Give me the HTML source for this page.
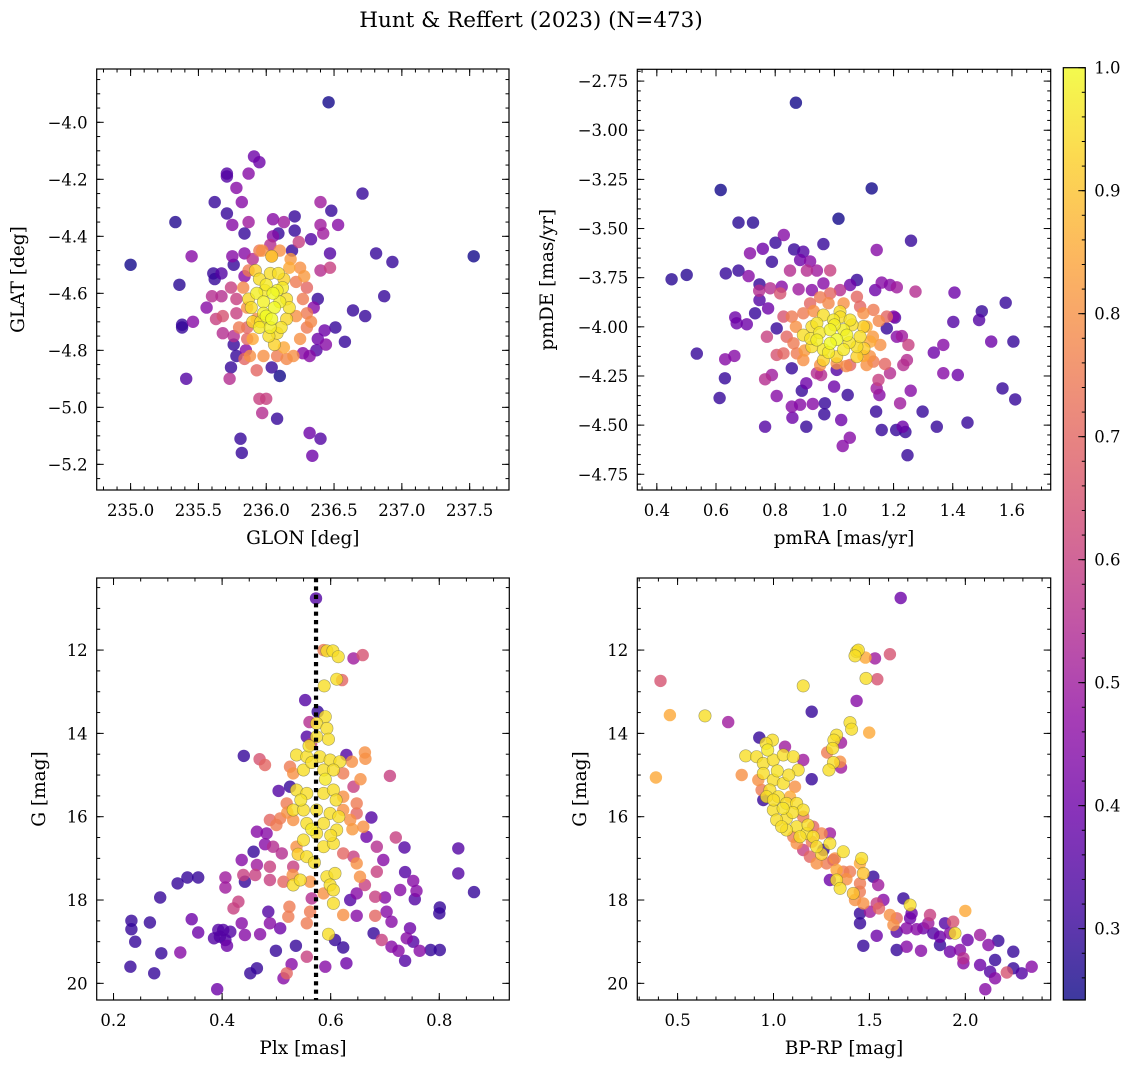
<!DOCTYPE html>
<html><head><meta charset="utf-8">
<style>
html,body{margin:0;padding:0;background:#fff;}
svg{display:block;font-family:"DejaVu Serif","Liberation Serif",serif;}
</style></head>
<body>
<svg id="fig" width="1136" height="1067" viewBox="0 0 1136 1067" xmlns="http://www.w3.org/2000/svg">
<text x="531" y="27" text-anchor="middle" font-size="21.5">Hunt &amp; Reffert (2023) (N=473)</text>
</svg>
<script>
// ---- data: [x, y, membership probability] ----
const p1Stars = [[236.46,-3.93,.25],[237.53,-4.47,.25],[235.00,-4.50,.25],[235.33,-4.35,.27],[235.36,-4.57,.28],[235.45,-4.47,.45],[235.61,-4.53,.3],[235.62,-4.55,.3],[235.67,-4.53,.35],[235.38,-4.71,.3],[235.38,-4.72,.3],[235.46,-4.70,.45],[235.41,-4.90,.35],[235.71,-4.18,.35],[235.71,-4.19,.35],[235.91,-4.12,.4],[235.95,-4.14,.4],[235.87,-4.18,.45],[235.78,-4.23,.45],[235.82,-4.28,.45],[235.62,-4.28,.3],[235.71,-4.32,.3],[235.75,-4.36,.45],[235.87,-4.35,.5],[235.84,-4.39,.3],[236.05,-4.34,.45],[236.13,-4.35,.5],[236.21,-4.33,.3],[236.21,-4.38,.3],[236.09,-4.39,.3],[236.48,-4.31,.3],[236.53,-4.36,.45],[236.40,-4.28,.5],[236.40,-4.36,.5],[236.42,-4.39,.5],[236.33,-4.41,.35],[236.24,-4.42,.6],[236.05,-4.40,.45],[236.71,-4.25,.3],[236.81,-4.46,.3],[236.93,-4.49,.3],[236.87,-4.61,.3],[236.64,-4.66,.3],[236.73,-4.68,.3],[236.51,-4.72,.3],[236.58,-4.77,.3],[236.43,-4.73,.4],[236.38,-4.76,.4],[236.44,-4.78,.45],[236.37,-4.80,.35],[236.32,-4.82,.45],[236.27,-4.81,.45],[236.10,-4.89,.25],[236.04,-4.86,.3],[235.74,-4.86,.3],[235.73,-4.90,.55],[235.93,-4.87,.7],[235.95,-4.97,.6],[236.00,-4.97,.6],[235.97,-5.02,.55],[236.08,-5.04,.3],[235.81,-5.11,.3],[235.82,-5.16,.3],[236.32,-5.09,.4],[236.40,-5.11,.35],[236.34,-5.17,.4],[235.75,-4.47,.45],[235.84,-4.46,.45],[235.76,-4.50,.3],[235.84,-4.54,.45],[236.19,-4.45,.3],[236.47,-4.46,.35],[236.47,-4.51,.6],[236.40,-4.52,.55],[236.38,-4.62,.3],[236.35,-4.65,.45],[235.56,-4.65,.45],[235.60,-4.61,.55],[235.67,-4.61,.55],[235.74,-4.58,.6],[235.78,-4.62,.6],[235.63,-4.69,.6],[235.68,-4.68,.65],[235.68,-4.74,.55],[235.76,-4.75,.55],[235.76,-4.78,.3],[235.78,-4.82,.3],[235.85,-4.80,.45],[235.84,-4.83,.7],[235.86,-4.76,.7],[235.98,-4.82,.8],[235.90,-4.76,.85],[235.95,-4.45,.75],[236.03,-4.43,.55],[236.04,-4.47,.85],[235.90,-4.48,.55],[235.87,-4.52,.75],[236.17,-4.51,.85],[236.25,-4.51,.8],[236.22,-4.56,.75],[236.30,-4.58,.7],[236.27,-4.62,.75],[236.30,-4.67,.75],[236.30,-4.72,.75],[236.25,-4.76,.8],[236.20,-4.82,.8],[236.13,-4.79,.85],[236.08,-4.82,.75],[235.93,-4.69,.8],[235.86,-4.72,.7],[235.78,-4.67,.6],[235.86,-4.65,.8],[236.18,-4.48,.82],[236.22,-4.68,.8],[235.83,-4.58,.78],[235.88,-4.82,.8],[236.15,-4.83,.78],[235.97,-4.45,.8],[236.28,-4.54,.82],[236.33,-4.70,.78],[235.80,-4.72,.75],[236.10,-4.45,.8],[235.95,-4.55,.95],[236.03,-4.53,.95],[236.09,-4.53,.95],[235.99,-4.59,.97],[236.08,-4.59,.98],[236.15,-4.62,.95],[236.17,-4.65,.96],[236.06,-4.65,1],[235.98,-4.63,.99],[235.89,-4.65,.95],[235.95,-4.72,.97],[236.03,-4.72,.98],[236.11,-4.72,.96],[236.08,-4.74,.95],[236.00,-4.68,1],[235.93,-4.60,.98],[236.13,-4.55,.93],[236.05,-4.60,1],[235.98,-4.67,.99],[236.04,-4.69,1],[235.87,-4.62,.94],[236.15,-4.69,.94],[236.04,-4.47,.9],[236.00,-4.57,.97],[236.10,-4.63,.98],[235.96,-4.70,.96],[236.06,-4.78,.93],[235.92,-4.52,.92],[236.12,-4.58,.97],[236.02,-4.75,.95],[235.90,-4.70,.93]];

const p2Stars = [[0.870,-2.86,.25],[0.616,-3.304,.25],[1.126,-3.296,.25],[1.014,-3.45,.25],[0.676,-3.47,.28],[0.725,-3.47,.28],[0.829,-3.533,.45],[0.801,-3.572,.3],[0.963,-3.579,.3],[1.259,-3.562,.3],[1.143,-3.609,.45],[0.758,-3.603,.4],[0.715,-3.626,.45],[0.789,-3.669,.3],[0.864,-3.606,.3],[0.895,-3.618,.35],[0.884,-3.660,.4],[0.918,-3.667,.45],[0.450,-3.758,.28],[0.501,-3.736,.28],[0.633,-3.728,.3],[0.676,-3.714,.3],[0.710,-3.742,.45],[0.747,-3.784,.3],[0.746,-3.816,.55],[0.783,-3.804,.55],[0.822,-3.796,.45],[0.850,-3.714,.55],[0.907,-3.714,.55],[0.941,-3.714,.5],[0.986,-3.713,.6],[0.879,-3.809,.5],[0.924,-3.813,.45],[0.963,-3.779,.45],[1.076,-3.762,.3],[1.053,-3.787,.4],[1.019,-3.813,.55],[1.138,-3.813,.4],[1.160,-3.775,.45],[1.188,-3.787,.45],[1.211,-3.799,.5],[1.274,-3.821,.55],[1.406,-3.826,.4],[1.579,-3.877,.3],[1.498,-3.921,.3],[1.489,-3.965,.35],[1.402,-3.975,.35],[1.530,-4.075,.4],[1.605,-4.075,.3],[0.747,-3.864,.35],[0.732,-3.931,.3],[0.776,-3.906,.4],[0.665,-3.952,.4],[0.670,-3.982,.4],[0.704,-3.987,.4],[0.805,-4.008,.3],[0.772,-4.050,.6],[0.535,-4.136,.3],[0.631,-4.165,.45],[0.662,-4.148,.45],[0.630,-4.262,.3],[0.612,-4.362,.3],[0.766,-4.267,.55],[0.789,-4.245,.5],[0.805,-4.352,.45],[0.856,-4.211,.3],[0.856,-4.406,.45],[0.858,-4.462,.4],[0.884,-4.396,.45],[0.890,-4.325,.3],[0.905,-4.287,.4],[0.905,-4.508,.3],[0.766,-4.508,.35],[0.927,-4.392,.45],[0.968,-4.389,.3],[0.966,-4.445,.3],[0.999,-4.304,.4],[1.045,-4.347,.3],[1.023,-4.474,.4],[1.052,-4.564,.45],[1.028,-4.606,.45],[1.141,-4.431,.3],[1.160,-4.525,.3],[1.209,-4.525,.3],[1.240,-4.535,.3],[1.231,-4.508,.4],[1.247,-4.653,.3],[1.222,-4.389,.5],[1.258,-4.325,.45],[1.298,-4.431,.3],[1.346,-4.508,.3],[1.450,-4.487,.3],[1.568,-4.313,.3],[1.611,-4.369,.3],[1.368,-4.236,.45],[1.417,-4.245,.4],[1.336,-4.131,.4],[1.368,-4.092,.45],[1.245,-4.169,.55],[1.233,-4.194,.55],[1.188,-4.236,.55],[1.149,-4.270,.6],[1.143,-4.313,.5],[1.152,-4.347,.45],[1.008,-4.219,.35],[1.211,-4.050,.45],[1.228,-4.047,.5],[1.200,-3.948,.45],[1.177,-4.008,.3],[1.205,-3.953,.35],[0.941,-4.236,.55],[0.955,-4.245,.55],[0.856,-3.948,.75],[0.839,-4.050,.7],[0.862,-4.084,.75],[0.828,-4.135,.7],[0.805,-4.143,.65],[0.873,-4.135,.75],[0.895,-4.169,.8],[0.952,-4.194,.8],[1.008,-4.186,.8],[1.053,-4.194,.7],[1.109,-4.194,.8],[1.132,-4.177,.75],[1.171,-4.189,.7],[1.155,-4.092,.8],[1.121,-4.075,.85],[1.109,-3.999,.85],[1.098,-3.931,.8],[1.132,-3.914,.75],[1.087,-3.897,.7],[1.076,-3.847,.7],[1.031,-3.881,.8],[0.986,-3.830,.7],[0.952,-3.850,.75],[0.918,-3.881,.7],[0.895,-3.931,.75],[0.828,-3.948,.65],[1.250,-4.092,.6],[1.177,-3.948,.7],[0.817,-3.830,.65],[1.098,-4.148,.85],[0.870,-4.000,.8],[0.900,-4.120,.82],[1.130,-4.050,.82],[1.120,-4.150,.8],[1.040,-4.200,.78],[0.980,-3.880,.78],[0.930,-3.920,.8],[1.150,-3.970,.78],[0.895,-4.042,.95],[0.924,-3.999,.95],[0.963,-3.940,.95],[1.019,-3.923,.95],[0.941,-4.067,.98],[0.986,-4.015,.99],[1.031,-4.015,.98],[1.008,-4.065,1],[0.963,-4.116,.97],[1.031,-4.116,.97],[1.076,-4.101,.95],[1.087,-4.050,.95],[1.053,-3.965,.96],[0.997,-3.965,.97],[0.941,-3.982,.96],[0.986,-4.084,1],[1.042,-4.042,.99],[0.963,-4.169,.93],[1.008,-4.152,.94],[1.076,-4.152,.93],[0.924,-4.101,.95],[1.098,-3.999,.93],[0.950,-4.030,.97],[1.000,-3.990,.98],[1.050,-4.080,.96],[0.980,-4.130,.97],[1.060,-3.990,.95],[0.920,-4.060,.96],[1.020,-3.950,.95],[1.100,-4.110,.92]];

const p3Stars = [[0.573,10.76,.35],[0.593,12.02,.95],[0.604,12.02,.95],[0.614,12.16,.95],[0.587,12.0,.75],[0.642,12.2,.5],[0.659,12.12,.65],[0.588,12.86,.95],[0.611,12.70,.95],[0.621,12.72,.7],[0.553,13.2,.35],[0.576,13.48,.3],[0.590,13.6,.95],[0.574,13.76,.95],[0.593,13.88,.95],[0.561,13.73,.55],[0.556,14.08,.35],[0.596,14.14,.95],[0.574,14.08,.95],[0.564,14.26,.6],[0.440,14.54,.3],[0.469,14.62,.65],[0.479,14.76,.7],[0.537,14.52,.95],[0.556,14.56,.95],[0.580,14.56,.95],[0.599,14.64,.95],[0.617,14.68,.95],[0.629,14.52,.35],[0.639,14.68,.8],[0.663,14.46,.8],[0.664,14.61,.8],[0.709,15.02,.6],[0.525,14.8,.75],[0.531,14.96,.8],[0.550,14.88,.95],[0.587,14.88,.95],[0.605,14.88,.95],[0.623,14.96,.75],[0.642,15.28,.6],[0.504,15.38,.35],[0.525,15.28,.3],[0.537,15.36,.95],[0.556,15.44,.95],[0.587,15.44,.95],[0.605,15.36,.95],[0.623,15.52,.8],[0.648,15.68,.75],[0.519,15.68,.75],[0.531,15.84,.95],[0.550,15.84,.95],[0.574,15.84,.95],[0.599,15.92,.95],[0.623,15.84,.8],[0.648,15.92,.7],[0.675,16.02,.35],[0.488,16.08,.7],[0.507,16.04,.75],[0.531,16.08,.8],[0.556,16.16,.95],[0.587,16.16,.95],[0.611,16.32,.95],[0.636,16.08,.8],[0.660,16.24,.8],[0.666,16.48,.4],[0.685,16.72,.55],[0.720,16.50,.6],[0.736,16.74,.35],[0.835,16.76,.35],[0.835,17.36,.35],[0.864,17.81,.3],[0.464,16.36,.45],[0.482,16.40,.45],[0.479,16.66,.45],[0.494,16.72,.55],[0.510,16.88,.55],[0.458,16.84,.3],[0.436,17.04,.45],[0.464,17.16,.5],[0.488,17.2,.6],[0.531,17.2,.6],[0.556,16.96,.95],[0.537,16.72,.8],[0.587,16.72,.95],[0.605,16.64,.95],[0.623,16.88,.7],[0.642,16.96,.6],[0.550,16.56,.95],[0.574,16.40,.95],[0.648,17.12,.8],[0.697,17.04,.45],[0.685,17.32,.6],[0.654,17.44,.8],[0.663,17.64,.6],[0.737,17.33,.35],[0.752,17.54,.45],[0.758,17.78,.45],[0.755,17.98,.35],[0.728,17.76,.45],[0.700,17.94,.45],[0.682,17.92,.6],[0.439,17.40,.6],[0.461,17.40,.6],[0.442,17.56,.3],[0.488,17.52,.6],[0.513,17.56,.7],[0.531,17.64,.95],[0.544,17.52,.95],[0.562,17.56,.8],[0.593,17.44,.95],[0.608,17.36,.95],[0.599,17.64,.95],[0.605,17.76,.95],[0.587,17.84,.8],[0.605,18.08,.95],[0.565,17.96,.55],[0.636,18.0,.35],[0.648,17.84,.45],[0.623,18.36,.8],[0.648,18.38,.45],[0.682,18.38,.7],[0.703,18.28,.45],[0.712,18.52,.45],[0.746,18.68,.4],[0.740,18.92,.45],[0.752,19.0,.35],[0.764,19.22,.45],[0.784,19.2,.3],[0.801,19.2,.3],[0.800,18.32,.3],[0.801,18.18,.3],[0.694,18.96,.6],[0.712,19.12,.45],[0.725,19.22,.45],[0.737,19.46,.35],[0.679,18.8,.3],[0.596,18.82,.95],[0.608,18.96,.3],[0.623,19.14,.3],[0.629,19.52,.4],[0.590,19.6,.45],[0.556,19.36,.6],[0.536,19.1,.3],[0.499,19.22,.3],[0.528,19.54,.45],[0.519,19.76,.7],[0.513,19.88,.45],[0.464,19.64,.3],[0.452,19.76,.3],[0.391,20.14,.4],[0.524,18.16,.75],[0.522,18.4,.75],[0.556,18.56,.75],[0.562,18.28,.75],[0.507,18.68,.4],[0.488,18.56,.45],[0.485,18.28,.35],[0.421,18.2,.6],[0.430,18.04,.6],[0.406,17.70,.5],[0.436,18.56,.45],[0.442,18.84,.45],[0.470,18.82,.45],[0.415,18.76,.35],[0.402,18.72,.35],[0.393,18.72,.35],[0.385,18.92,.35],[0.406,18.96,.35],[0.409,19.10,.4],[0.396,18.88,.35],[0.356,17.46,.3],[0.336,17.46,.3],[0.318,17.6,.3],[0.286,17.94,.3],[0.267,18.54,.3],[0.233,18.5,.3],[0.233,18.70,.3],[0.240,19.0,.3],[0.344,18.46,.4],[0.356,18.78,.4],[0.323,19.26,.45],[0.288,19.28,.3],[0.231,19.6,.3],[0.275,19.76,.3],[0.406,17.46,.5],[0.520,15.90,.8],[0.640,16.30,.82],[0.500,16.20,.75],[0.655,15.10,.8],[0.530,17.40,.8],[0.565,14.70,.95],[0.590,15.10,.97],[0.545,15.60,.96],[0.610,15.60,.95],[0.565,16.30,.97],[0.600,16.45,.95],[0.570,17.10,.95],[0.560,14.30,.96],[0.615,16.00,.95],[0.540,16.90,.92]];

const p4Stars = [[1.663,10.75,.4],[1.433,12.04,.95],[1.442,12.0,.95],[1.425,12.14,.95],[1.479,12.18,.85],[1.529,12.2,.5],[1.607,12.1,.65],[1.482,12.68,.95],[1.541,12.7,.65],[1.155,12.86,.95],[1.433,13.22,.45],[1.199,13.48,.3],[0.411,12.74,.65],[0.460,13.56,.85],[0.643,13.58,.95],[0.764,13.73,.5],[0.387,15.06,.85],[0.834,15.0,.8],[1.199,15.1,.3],[1.399,13.74,.95],[1.407,13.9,.95],[1.499,13.98,.85],[1.329,14.04,.95],[1.315,14.16,.95],[1.352,14.22,.5],[1.308,14.36,.95],[1.280,14.46,.75],[1.312,14.7,.95],[1.347,14.68,.8],[1.289,14.88,.95],[1.352,14.82,.5],[0.926,14.1,.3],[0.995,14.16,.95],[1.060,14.32,.5],[0.961,14.24,.95],[0.855,14.54,.95],[1.155,14.64,.5],[0.912,14.56,.95],[0.947,14.72,.95],[0.999,14.64,.95],[1.051,14.52,.95],[1.103,14.56,.95],[1.129,14.88,.95],[0.947,14.96,.95],[0.999,15.12,.95],[1.051,15.2,.95],[0.981,15.36,.95],[1.025,15.52,.95],[0.964,15.52,.95],[1.068,15.68,.95],[1.121,15.68,.95],[1.155,15.84,.95],[0.999,15.84,.95],[1.068,16.04,.95],[1.016,16.08,.95],[1.121,16.24,.95],[1.173,16.40,.95],[1.207,16.48,.95],[1.138,16.48,.95],[1.225,16.72,.95],[1.294,16.64,.95],[1.364,16.84,.95],[1.068,16.32,.95],[1.042,16.24,.95],[0.921,15.12,.8],[0.938,15.36,.75],[0.947,15.6,.3],[1.086,15.52,.85],[1.112,15.28,.8],[1.155,16.0,.75],[1.207,16.24,.7],[1.103,16.48,.75],[1.121,16.64,.8],[1.155,16.8,.6],[1.190,16.96,.7],[1.225,17.12,.8],[1.277,17.12,.75],[1.312,17.04,.55],[1.294,16.40,.5],[1.260,16.8,.3],[1.329,17.28,.85],[1.364,17.32,.75],[1.329,17.52,.95],[1.347,17.72,.95],[1.294,17.52,.4],[1.399,17.32,.75],[1.451,17.12,.85],[1.460,17.0,.95],[1.468,17.36,.9],[1.520,17.44,.3],[1.451,17.6,.75],[1.546,17.64,.5],[1.416,17.84,.9],[1.468,18.08,.8],[1.538,18.08,.6],[1.573,18.0,.45],[1.425,18.0,.8],[1.503,18.28,.5],[1.451,18.32,.3],[1.451,18.56,.3],[1.538,18.86,.4],[1.468,19.1,.3],[1.607,18.36,.8],[1.642,18.44,.7],[1.677,17.96,.3],[1.712,18.12,.95],[1.720,18.32,.4],[1.712,18.44,.4],[1.625,18.6,.8],[1.642,18.76,.35],[1.694,18.68,.45],[1.746,18.7,.45],[1.781,18.68,.4],[1.816,18.36,.6],[1.807,18.56,.5],[1.694,19.12,.45],[1.642,19.2,.3],[1.769,19.22,.45],[1.833,18.8,.35],[1.868,18.88,.4],[1.894,18.56,.35],[1.920,18.8,.45],[1.946,18.8,.95],[1.937,18.52,.65],[2.000,18.26,.85],[1.972,19.2,.45],[2.012,18.96,.4],[1.990,19.4,.55],[1.990,19.52,.45],[2.077,18.84,.5],[2.120,19.08,.45],[2.172,18.98,.3],[2.077,19.56,.4],[2.155,19.44,.3],[2.129,19.72,.35],[2.155,19.88,.45],[2.216,19.74,.65],[2.250,19.24,.3],[2.250,19.64,.3],[2.294,19.76,.35],[2.346,19.6,.45],[2.104,20.14,.45],[1.868,19.08,.3],[1.920,19.24,.4],[1.250,16.40,.78],[1.320,17.00,.8],[1.380,17.50,.8],[1.450,17.80,.75],[1.550,18.20,.7],[1.200,16.60,.75],[0.970,14.40,.97],[1.020,14.90,.96],[1.080,15.00,.95],[1.000,15.60,.95],[1.100,15.90,.95],[1.050,15.80,.96],[1.180,16.20,.95],[1.250,16.90,.93]];

const plxMedian = [0.573];
const cbarTicks = [0.3,0.4,0.5,0.6,0.7,0.8,0.9,1.0];
const cbarRange = [0.242, 1.0];

const NS = "http://www.w3.org/2000/svg";
const svg = document.getElementById('fig');
const TICK_FS = 16.5, LABEL_FS = 18.5;
function el(tag, attrs, parent){
  const e = document.createElementNS(NS, tag);
  for (const k in attrs) e.setAttribute(k, attrs[k]);
  (parent||svg).appendChild(e);
  return e;
}
const plasmaStops = [[13,8,135],[65,4,157],[106,0,168],[143,13,164],[177,42,144],[204,71,120],[225,100,98],[242,132,75],[252,166,54],[252,206,37],[240,249,33]];
function plasma(t){
  t = Math.max(0, Math.min(1, t));
  const f = t*10, i = Math.min(9, Math.floor(f)), r = f - i;
  const a = plasmaStops[i], b = plasmaStops[i+1];
  return 'rgb(' + [0,1,2].map(k => Math.round(a[k]+(b[k]-a[k])*r)).join(',') + ')';
}
function cnorm(p){ return (p - cbarRange[0])/(cbarRange[1]-cbarRange[0]); }
function fmt(v, d){ const s = Math.abs(v).toFixed(d); return (v < -1e-9 ? '\u2212' : '') + s; }

function panel(cfg){
  const g = el('g', {});
  
  
  const {x0,x1,y0,y1,xd,yd} = cfg;
  const sx = v => x0 + (v - xd[0])/(xd[1]-xd[0])*(x1-x0);
  const sy = v => y0 + (v - yd[0])/(yd[1]-yd[0])*(y1-y0);
  const clipId = 'clip-' + cfg.name;
  const cp = el('clipPath', {id: clipId}, g);
  el('rect', {x:x0, y:y0, width:x1-x0, height:y1-y0}, cp);
  const pts = el('g', {'clip-path':'url(#'+clipId+')'}, g);
  
  
  const stars = cfg.data.slice().sort((a,b)=>a[2]-b[2]);
  stars.forEach(s => {
    const c = el('circle', {cx: sx(s[0]).toFixed(1), cy: sy(s[1]).toFixed(1), r: 6.2,
      fill: plasma(cnorm(s[2])), 'fill-opacity': 0.8,
      stroke: s[2] > 0.85 ? 'rgba(90,90,60,0.55)' : 'none', 'stroke-width': 0.6}, pts);
    
    
  });
  if (cfg.vline){
    const ln = el('line', {x1: sx(cfg.vline[0]), x2: sx(cfg.vline[0]), y1: y0, y2: y1,
      stroke:'#000', 'stroke-width':4.2, 'stroke-dasharray':'4.2 4.2', 'clip-path':'url(#'+clipId+')'}, g);
    
    
  }
  const tk = el('g', {stroke:'#000', 'stroke-width':1}, g);
  
  
  function ticks(lo, hi, step){ const out=[]; const n0=Math.ceil(Math.min(lo,hi)/step-1e-6), n1=Math.floor(Math.max(lo,hi)/step+1e-6); for(let n=n0;n<=n1;n++) out.push(+(n*step).toFixed(6)); return out; }
  ticks(xd[0], xd[1], cfg.xminor).forEach(v => { const X=sx(v); el('line',{x1:X,x2:X,y1:y1,y2:y1-3.5},tk); el('line',{x1:X,x2:X,y1:y0,y2:y0+3.5},tk); });
  ticks(yd[0], yd[1], cfg.yminor).forEach(v => { const Y=sy(v); el('line',{x1:x0,x2:x0+3.5,y1:Y,y2:Y},tk); el('line',{x1:x1,x2:x1-3.5,y1:Y,y2:Y},tk); });
  ticks(xd[0], xd[1], cfg.xmajor).forEach(v => {
    const X=sx(v); el('line',{x1:X,x2:X,y1:y1,y2:y1-7},tk); el('line',{x1:X,x2:X,y1:y0,y2:y0+7},tk);
    const t = el('text',{x:X, y:y1+26, 'text-anchor':'middle', 'font-size':TICK_FS}, g);
    t.textContent = fmt(v, cfg.xdec);
    
    
  });
  ticks(yd[0], yd[1], cfg.ymajor).forEach(v => {
    const Y=sy(v); el('line',{x1:x0,x2:x0+7,y1:Y,y2:Y},tk); el('line',{x1:x1,x2:x1-7,y1:Y,y2:Y},tk);
    const t = el('text',{x:x0-9, y:Y+6, 'text-anchor':'end', 'font-size':TICK_FS}, g);
    t.textContent = fmt(v, cfg.ydec);
    
    
  });
  const fr = el('rect', {x:x0, y:y0, width:x1-x0, height:y1-y0, fill:'none', stroke:'#000', 'stroke-width':1.2}, g);
  
  
  const xl = el('text', {x:(x0+x1)/2, y:y1+54, 'text-anchor':'middle', 'font-size':LABEL_FS}, g);
  xl.textContent = cfg.xlabel;
  
  
  const yx = cfg.ylx, yy = (y0+y1)/2;
  const yl = el('text', {x:yx, y:yy, 'text-anchor':'middle', 'font-size':LABEL_FS, transform:'rotate(-90 '+yx+' '+yy+')'}, g);
  yl.textContent = cfg.ylabel;
  
  
}

panel({name:'glon-glat-panel', data:p1Stars, x0:96.7, x1:509, y0:69, y1:490, xd:[234.75,237.79], yd:[-3.813,-5.29],
  xmajor:0.5, xminor:0.1, ymajor:0.2, yminor:0.05, xdec:1, ydec:1, xlabel:'GLON [deg]', ylabel:'GLAT [deg]', ylx:24});
panel({name:'pm-panel', data:p2Stars, x0:637.3, x1:1050.7, y0:69.3, y1:490, xd:[0.334,1.731], yd:[-2.69,-4.83],
  xmajor:0.2, xminor:0.05, ymajor:0.25, yminor:0.05, xdec:1, ydec:2, xlabel:'pmRA [mas/yr]', ylabel:'pmDE [mas/yr]', ylx:553});
panel({name:'plx-g-panel', data:p3Stars, x0:96.7, x1:509.3, y0:578, y1:1000, xd:[0.169,0.929], yd:[10.27,20.4],
  xmajor:0.2, xminor:0.05, ymajor:2, yminor:0.5, xdec:1, ydec:0, xlabel:'Plx [mas]', ylabel:'G [mag]', ylx:45, vline:plxMedian});
panel({name:'cmd-panel', data:p4Stars, x0:637.3, x1:1050.7, y0:578, y1:1000, xd:[0.290,2.445], yd:[10.27,20.4],
  xmajor:0.5, xminor:0.1, ymajor:2, yminor:0.5, xdec:1, ydec:0, xlabel:'BP-RP [mag]', ylabel:'G [mag]', ylx:586});

(function(){
  const cx0=1063.3, cx1=1085.3, cy0=67.7, cy1=1000;
  const g = el('g', {});
  
  
  const defs = el('defs', {}, g);
  const lg = el('linearGradient', {id:'cbgrad', x1:0, y1:1, x2:0, y2:0}, defs);
  for (let i=0;i<=20;i++){
    const t = i/20;
    const p = cbarRange[0] + t*(cbarRange[1]-cbarRange[0]);
    el('stop', {offset:t, 'stop-color':plasma(cnorm(p)), 'stop-opacity':0.8}, lg);
  }
  el('rect', {x:cx0, y:cy0, width:cx1-cx0, height:cy1-cy0, fill:'url(#cbgrad)', stroke:'#000', 'stroke-width':1.2}, g);
  const sy = v => cy1 - (v-cbarRange[0])/(cbarRange[1]-cbarRange[0])*(cy1-cy0);
  for (let v = 0.26; v <= 1.0001; v += 0.02){
    const Y = sy(v);
    el('line', {x1:cx1, x2:cx1-3.5, y1:Y, y2:Y, stroke:'#000', 'stroke-width':1}, g);
  }
  cbarTicks.forEach(v => {
    const Y = sy(v);
    el('line', {x1:cx1, x2:cx1-7, y1:Y, y2:Y, stroke:'#000', 'stroke-width':1}, g);
    const t = el('text', {x:cx1+9, y:Y+6, 'font-size':TICK_FS}, g);
    t.textContent = v.toFixed(1);
    
    
  });
})();
</script>
</body></html>
